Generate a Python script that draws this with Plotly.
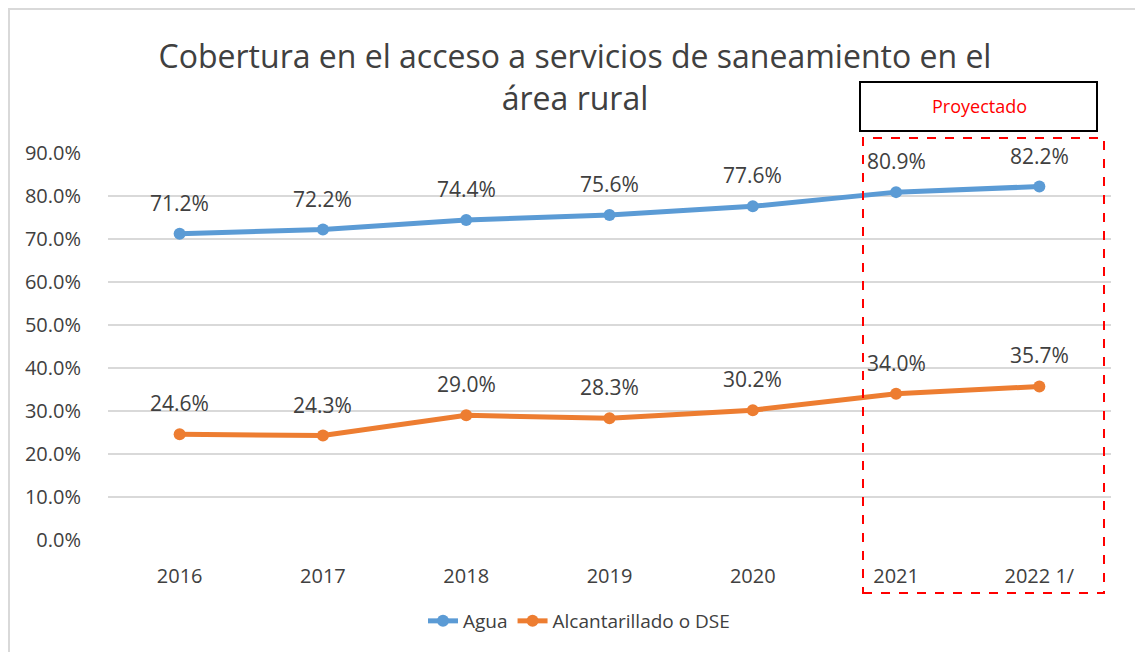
import plotly.graph_objects as go

years = ["2016", "2017", "2018", "2019", "2020", "2021", "2022 1/"]
agua = [0.712, 0.722, 0.744, 0.756, 0.776, 0.809, 0.822]
alcantarillado = [0.246, 0.243, 0.290, 0.283, 0.302, 0.340, 0.357]
series_names = ["Agua", "Alcantarillado o DSE"]
colors = ["#5B9BD5", "#ED7D31"]

FONT = "Open Sans"
W, H = 1135, 652
L, R, T, B = 108, 24, 153, 112
pw, ph = W - L - R, H - T - B


def px_to_paper_x(px):
    return (px - L) / pw


def px_to_paper_y(py):
    return (H - B - py) / ph


fig = go.Figure()
for name, vals, col in zip(series_names, [agua, alcantarillado], colors):
    fig.add_trace(go.Scatter(
        x=list(range(len(years))), y=vals, name=name, mode="lines+markers",
        line=dict(color=col, width=5),
        marker=dict(color=col, size=12),
        hoverinfo="skip",
    ))

annotations = []
for vals in [agua, alcantarillado]:
    for i, v in enumerate(vals):
        annotations.append(dict(
            x=i, y=v, xref="x", yref="y", text=f"{v*100:.1f}%",
            showarrow=False, yshift=31,
            font=dict(family=FONT, size=21, color="#404040"),
        ))

annotations.append(dict(
    x=px_to_paper_x(979), y=px_to_paper_y(106), text="Proyectado",
    showarrow=False, xref="paper", yref="paper",
    xanchor="center", yanchor="middle",
    font=dict(family=FONT, size=18, color="#FF0000"),
))

shapes = [
    dict(type="rect", xref="paper", yref="paper",
         x0=px_to_paper_x(9), x1=px_to_paper_x(1145),
         y0=px_to_paper_y(662), y1=px_to_paper_y(9),
         line=dict(color="#D9D9D9", width=2), layer="below"),
    dict(type="rect", xref="paper", yref="paper",
         x0=px_to_paper_x(863), x1=px_to_paper_x(1104),
         y0=px_to_paper_y(593), y1=px_to_paper_y(138),
         line=dict(color="#FF0000", width=2, dash="dash")),
    dict(type="rect", xref="paper", yref="paper",
         x0=px_to_paper_x(860), x1=px_to_paper_x(1097),
         y0=px_to_paper_y(131), y1=px_to_paper_y(82),
         line=dict(color="#000000", width=2), fillcolor="white"),
]

fig.update_layout(
    width=W, height=H,
    margin=dict(l=L, r=R, t=T, b=B, autoexpand=False),
    paper_bgcolor="white", plot_bgcolor="white",
    title=dict(
        text="Cobertura en el acceso a servicios de saneamiento en el<br>área rural",
        x=575 / W, xref="container", xanchor="center",
        y=1 - 68 / H, yanchor="middle",
        font=dict(family=FONT, size=32, color="#404040"),
    ),
    font=dict(family=FONT, color="#404040"),
    xaxis=dict(
        range=[-0.5, 6.5], showgrid=False, zeroline=False, showline=False,
        tickmode="array", tickvals=list(range(len(years))), ticktext=years,
        ticks="outside", ticklen=18, tickcolor="rgba(0,0,0,0)",
        tickfont=dict(family=FONT, size=20, color="#404040"),
    ),
    yaxis=dict(
        range=[0, 0.9], dtick=0.1, tickformat=".1%",
        showgrid=True, gridcolor="#D9D9D9", gridwidth=1.5,
        zeroline=False, showline=False,
        ticks="outside", ticklen=22, tickcolor="rgba(0,0,0,0)",
        tickfont=dict(family=FONT, size=20, color="#404040"),
    ),
    legend=dict(
        orientation="h", x=px_to_paper_x(579), xanchor="center",
        y=px_to_paper_y(621), yanchor="middle",
        font=dict(family=FONT, size=19, color="#404040"),
        entrywidth=0, tracegroupgap=0,
    ),
    annotations=annotations,
    shapes=shapes,
)

fig.write_html("out.html", config={"displayModeBar": False},
               post_script="document.body.style.margin='0';")
